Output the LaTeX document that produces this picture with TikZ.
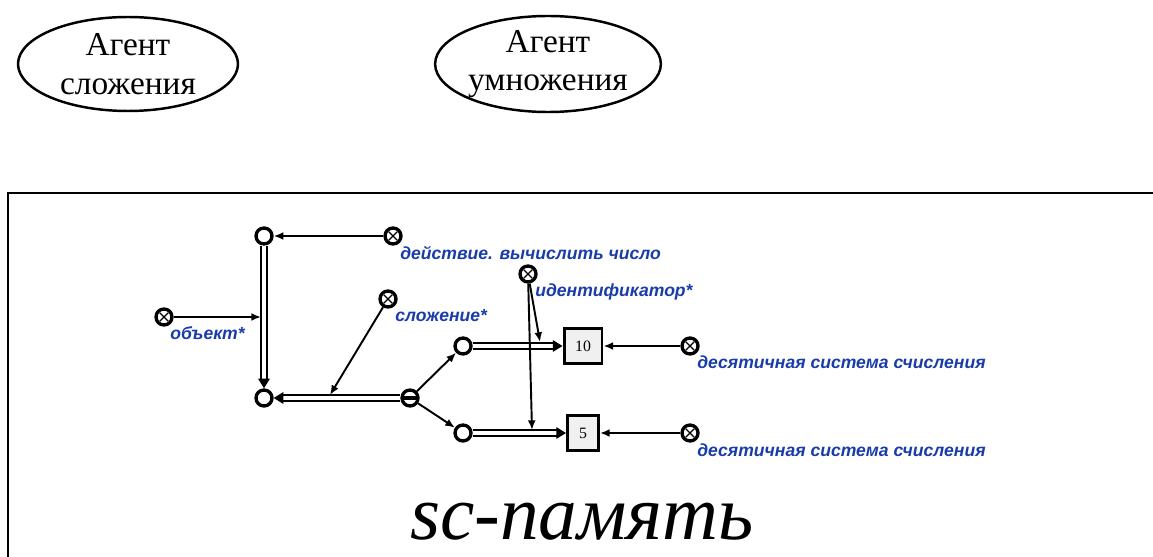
\documentclass[tikz,border=0pt]{standalone}
\usepackage{fontspec}
\setmainfont{Liberation Serif}
\newfontfamily\labelfont{Liberation Sans Bold Italic}
\usetikzlibrary{shapes.geometric,arrows.meta}
\definecolor{scblue}{RGB}{25,60,170}

\begin{document}
\begin{tikzpicture}[x=0.02cm,y=-0.02cm,
	agent/.style={shape=ellipse,draw=black,line width=1.4pt,minimum width=4.4cm,minimum height=1.88cm,inner sep=0pt,align=center,font=\fontsize{19}{22}\selectfont},
	nd/.style={shape=circle,draw=black,line width=1.9pt,minimum size=0.32cm,inner sep=0pt},
	cls/.style={nd,path picture={\draw[line width=0.7pt] ([shift={(-2.4pt,-2.4pt)}]path picture bounding box.center) -- ([shift={(2.4pt,2.4pt)}]path picture bounding box.center) ([shift={(-2.4pt,2.4pt)}]path picture bounding box.center) -- ([shift={(2.4pt,-2.4pt)}]path picture bounding box.center);}},
	tpl/.style={nd,path picture={\draw[line width=1.8pt] (path picture bounding box.west) -- (path picture bounding box.east);}},
	lnk/.style={shape=rectangle,draw=black,fill=black!6,line width=1.7pt,minimum height=0.7cm,inner sep=0pt,font=\fontsize{9}{10}\selectfont,path picture={\fill (path picture bounding box.north west) -- ++(4pt,0pt) -- ++(-4pt,-4pt) -- cycle;}},
	lbl/.style={font=\labelfont\fontsize{10}{12}\selectfont,text=scblue,anchor=west,inner sep=0pt},
	arc/.style={-{Latex[length=5.5pt,width=4.5pt]},line width=1.1pt},
	pair/.style={double=white,double distance=2.6pt,line width=0.9pt,-{Triangle[length=5.5pt,width=6.5pt]}}
	]
	\useasboundingbox (0,0) rectangle (1153,557);
	\draw[line width=1.7pt] (1160,193) -- (8,193) -- (8,565);

	\node[agent] (agsum) at (128,64) {Агент\\сложения};
	\node[agent] (agmul) at (548,64) {Агент\\умножения};

	\node[nd] (n1) at (264,236) {};
	\node[cls] (act) at (393,236) {};
	\node[nd] (n2) at (264,398) {};
	\node[cls] (obj) at (164,317) {};
	\node[cls] (add) at (388,299) {};
	\node[tpl] (tup) at (410,398) {};
	\node[nd] (n3) at (463,346) {};
	\node[nd] (n4) at (463,433) {};
	\node[cls] (ident) at (528,274) {};
	\node[lnk,minimum width=0.76cm] (ten) at (583,346) {10};
	\node[lnk,minimum width=0.62cm] (five) at (583,433) {5};
	\node[cls] (dec1) at (690,346) {};
	\node[cls] (dec2) at (690,433) {};

	\node[lbl] (tact) at (400,253) {действие. вычислить число};
	\node[lbl] (tident) at (535,292) {идентификатор*};
	\node[lbl] (tadd) at (395,316) {сложение*};
	\node[lbl] (tobj) at (170,333) {объект*};
	\node[lbl] (tdec1) at (697,362) {десятичная система счисления};
	\node[lbl] (tdec2) at (697,450) {десятичная система счисления};

	\node[font=\itshape\fontsize{44}{48}\selectfont] (mem) at (582,522) {sc-память};

	\coordinate (m1) at (261,317);
	\coordinate (m2) at (330,395);
	\coordinate (m3) at (540,342);
	\coordinate (m4) at (532,430);

	\draw[arc] (act) -- (n1);
	\draw[pair] (n1) -- (n2);
	\draw[arc] (obj) -- (m1);
	\draw[pair] (tup) -- (n2);
	\draw[arc] (add) -- (m2);
	\draw[arc] (tup) -- (n3);
	\draw[arc] (tup) -- (n4);
	\draw[pair] (n3) -- (ten);
	\draw[pair] (n4) -- (five);
	\draw[arc] (ident) -- (m3);
	\draw[arc] (ident) -- (m4);
	\draw[arc] (dec1) -- (ten);
	\draw[arc] (dec2) -- (five);
\end{tikzpicture}
\end{document}
